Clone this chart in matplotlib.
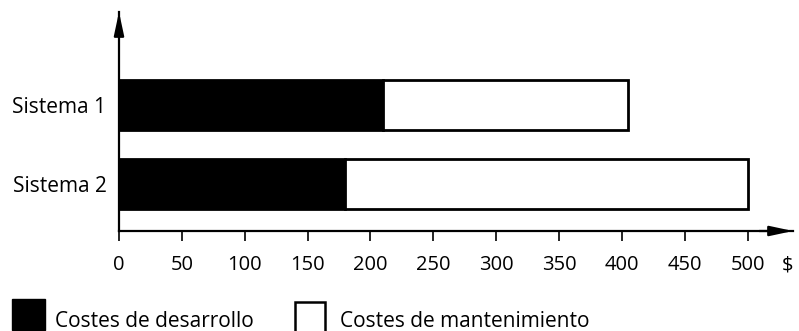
import matplotlib.pyplot as plt
from matplotlib.patches import Rectangle

plt.rcParams['font.family'] = ['Open Sans', 'DejaVu Sans']

sistemas = ['Sistema 1', 'Sistema 2']
desarrollo = [210, 180]
mantenimiento = [195, 320]
ticks = [0, 50, 100, 150, 200, 250, 300, 350, 400, 450, 500]

W, H = 799, 331
fig = plt.figure(figsize=(W / 100, H / 100), dpi=100)
# axes box in pixels: left 119, right 793, top 12, bottom 231
ax = fig.add_axes([119 / W, (H - 231) / H, (793 - 119) / W, (231 - 12) / H])

ypos = [1, 0]
ax.barh(ypos, desarrollo, height=0.633, color='black', edgecolor='black', linewidth=2)
ax.barh(ypos, mantenimiento, left=desarrollo, height=0.633, color='white',
        edgecolor='black', linewidth=2)

ax.set_xlim(0, 536)
ax.set_ylim(-0.595, 2.177)

for s in ['top', 'right']:
    ax.spines[s].set_visible(False)
ax.spines['left'].set_linewidth(1.6)
ax.spines['bottom'].set_linewidth(1.6)

ax.set_xticks(ticks)
ax.set_xticklabels([str(t) for t in ticks])
ax.tick_params(axis='x', direction='out', length=7, width=1.2, labelsize=14.5, pad=10)
ax.set_yticks(ypos)
ax.set_yticklabels(sistemas)
ax.tick_params(axis='y', length=0, labelsize=15, pad=9)

# currency unit on the tick-label row
ax.annotate('$', xy=(782 / W, (H - 270) / H), xycoords='figure fraction',
            fontsize=14.5, ha='left', va='baseline', annotation_clip=False)

# arrow heads
ax.annotate('', xy=(1.0, 0), xytext=(0.95, 0), xycoords='axes fraction',
            arrowprops=dict(arrowstyle='-|>,head_length=1.4,head_width=0.3',
                            color='black', lw=1.6, shrinkA=0, shrinkB=0))
ax.annotate('', xy=(0, 1.0), xytext=(0, 0.9), xycoords='axes fraction',
            arrowprops=dict(arrowstyle='-|>,head_length=1.4,head_width=0.3',
                            color='black', lw=1.6, shrinkA=0, shrinkB=0))

# legend
fig.patches.append(Rectangle((12 / W, (H - 330) / H), 33 / W, 31 / H,
                             transform=fig.transFigure, facecolor='black',
                             edgecolor='black'))
fig.patches.append(Rectangle((295 / W, (H - 333) / H), 30 / W, 31 / H,
                             transform=fig.transFigure, facecolor='white',
                             edgecolor='black', linewidth=1.8))
fig.text(55 / W, (H - 327) / H, 'Costes de desarrollo', fontsize=15, va='baseline')
fig.text(340 / W, (H - 327) / H, 'Costes de mantenimiento', fontsize=15, va='baseline')

fig.savefig('out.png', dpi=100)
